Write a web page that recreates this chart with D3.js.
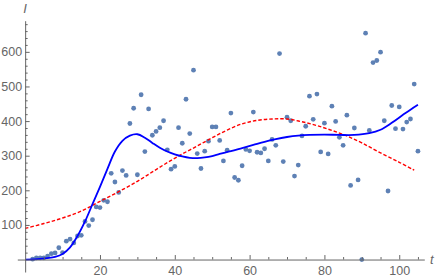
<!DOCTYPE html>
<html>
<head>
<meta charset="utf-8">
<script src="https://cdn.jsdelivr.net/npm/d3@7"></script>
<style>
  html, body { margin: 0; padding: 0; background: #fff; }
  svg { display: block; }
  text { font-family: "Liberation Sans", Arial, sans-serif; }
</style>
</head>
<body>
<svg id="chart" width="436" height="279"></svg>
<script>
// Observed data points (t, I)
const days = [2,3,4,5,6,7,8,9,10,11,12,13,14,15,16,17,18,19,20,21,22,23,24,25,26,27,28,29,30,31,32,33,34,35,36,37,38,39,40,41,42,43,44,45,46,47,48,49,50,51,52,53,54,55,56,57,58,59,60,61,62,63,64,65,66,67,68,69,70,71,72,73,74,75,76,77,78,79,80,81,82,83,84,85,86,87,88,89,90,91,92,93,94,95,96,97,98,99,100,101,102,103,104,105];
const observed = [1,5,5,5,10,17,19,34,20,53,59,48,68,70,110,98,115,152,150,171,167,249,224,194,257,243,393,437,245,476,312,435,359,370,381,401,317,261,269,381,336,463,364,547,306,263,313,342,383,383,344,285,316,423,237,229,271,318,314,426,310,308,320,285,347,330,595,283,411,401,241,273,357,385,472,405,478,311,394,305,443,399,353,330,417,214,380,230,0,654,373,569,575,599,401,198,445,378,441,377,397,406,507,313];

// Blue solid fitted curve
const fitT = [0,4,8,10,12,14,16,18,20,22,24,26,28,30,32,34,36,38,40,42,44,46,48,50,52,55,58,61,64,67,70,73,76,80,84,88,92,95,98,101,103,105];
const fitV = [0,2,8,16,35,68,110,160,210,262,312,343,358,362,352,337,323,312,304,298,294,293,295,299,305,313,322,331,340,348,354,358,360,361,360,360,365,375,395,418,433,447];

// Red dashed model curve
const modelT = [0,5,10,15,20,25,30,34,38,42,46,50,54,58,62,66,70,74,78,82,86,90,95,100,104];
const modelV = [90,104,120,140,168,196,226,253,280,305,328,352,374,392,402,406,406,398,387,373,357,337,308,281,258];

// Tick values
const xMajor = [20,40,60,80,100];
const xMinor = [5,10,15,25,30,35,45,50,55,65,70,75,85,90,95,105];
const yMajor = [100,200,300,400,500,600];
const yMinor = [20,40,60,80,120,140,160,180,220,240,260,280,320,340,360,380,420,440,460,480,520,540,560,580,620,640,660,680];

const svg = d3.select("#chart");
const x = d3.scaleLinear().domain([-2.1, 106.7]).range([17.3, 424.3]);
const y = d3.scaleLinear().domain([-36, 690]).range([272, 20.7]);

const axisColor = "#666";
const textColor = "#666";

// points
svg.append("g").selectAll("circle")
  .data(days.map((d, i) => [d, observed[i]]))
  .join("circle")
  .attr("cx", d => x(d[0]))
  .attr("cy", d => y(d[1]))
  .attr("r", 2.4)
  .attr("fill", "#5E81B5");

// red dashed
svg.append("path")
  .datum(modelT.map((d, i) => [d, modelV[i]]))
  .attr("fill", "none")
  .attr("stroke", "#FF0000")
  .attr("stroke-width", 1.4)
  .attr("stroke-dasharray", "3.5,2")
  .attr("d", d3.line().x(d => x(d[0])).y(d => y(d[1])).curve(d3.curveCatmullRom));

// blue solid
svg.append("path")
  .datum(fitT.map((d, i) => [d, fitV[i]]))
  .attr("fill", "none")
  .attr("stroke", "#0000FF")
  .attr("stroke-width", 1.8)
  .attr("d", d3.line().x(d => x(d[0])).y(d => y(d[1])).curve(d3.curveCatmullRom));

// X axis
const x0 = y(0);
const gx = svg.append("g").attr("transform", `translate(0,${x0})`);
gx.call(d3.axisBottom(x).tickValues(xMajor).tickSizeInner(-4.5).tickSizeOuter(0).tickPadding(7).tickFormat(d3.format("d")));
const gxm = svg.append("g").attr("transform", `translate(0,${x0})`);
gxm.call(d3.axisBottom(x).tickValues(xMinor).tickSizeInner(-2.5).tickSizeOuter(0).tickFormat(""));
gxm.select(".domain").remove();

// Y axis
const y0 = x(0);
const gy = svg.append("g").attr("transform", `translate(${y0},0)`);
gy.call(d3.axisLeft(y).tickValues(yMajor).tickSizeInner(-4.5).tickSizeOuter(0).tickPadding(3).tickFormat(d3.format("d")));
const gym = svg.append("g").attr("transform", `translate(${y0},0)`);
gym.call(d3.axisLeft(y).tickValues(yMinor).tickSizeInner(-2.5).tickSizeOuter(0).tickFormat(""));
gym.select(".domain").remove();

svg.selectAll(".domain, .tick line").attr("stroke", axisColor).attr("stroke-width", 1);
svg.selectAll(".tick text").attr("fill", textColor).style("font-size", "12.5px").style("font-family", "'Liberation Sans', Arial, sans-serif");

// axis labels
svg.append("text").attr("x", 25).attr("y", 13).attr("text-anchor", "middle")
  .style("font-style", "italic").style("font-size", "13px").attr("fill", textColor).text("I");
svg.append("text").attr("x", 430).attr("y", 264).attr("text-anchor", "start")
  .style("font-style", "italic").style("font-size", "13px").attr("fill", textColor).text("t");
</script>
</body>
</html>
